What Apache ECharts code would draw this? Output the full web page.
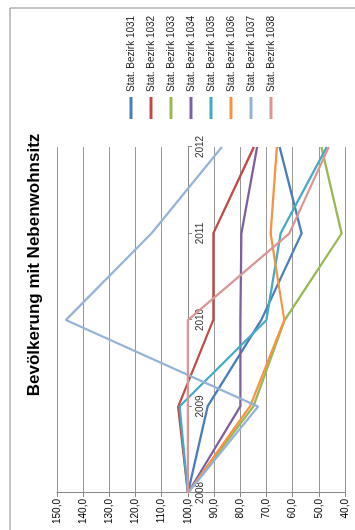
<!DOCTYPE html>
<html>
<head>
<meta charset="utf-8">
<script src="https://cdn.jsdelivr.net/npm/echarts@6/dist/echarts.min.js"></script>
<style>
html,body{margin:0;padding:0;background:#fff;overflow:hidden;}
#wrap{position:absolute;left:0;top:0;width:355px;height:530px;overflow:hidden;}
#chart{position:absolute;left:0;top:0;width:530px;height:355px;transform-origin:0 0;transform:translateY(530px) rotate(-90deg);}
</style>
</head>
<body>
<div id="wrap"><div id="chart"></div></div>
<script>
const titleText = 'Bevölkerung mit Nebenwohnsitz';
const years = ['2008', '2009', '2010', '2011', '2012'];
const seriesNames = ['Stat. Bezirk 1031','Stat. Bezirk 1032','Stat. Bezirk 1033','Stat. Bezirk 1034','Stat. Bezirk 1035','Stat. Bezirk 1036','Stat. Bezirk 1037','Stat. Bezirk 1038'];
const bezirk1031 = [100, 92.5, 72.0, 56.6, 65.0];
const bezirk1032 = [100, 103.7, 90.3, 90.3, 74.8];
const bezirk1033 = [100, 75.0, 63.0, 41.3, 49.0];
const bezirk1034 = [100, 80.0, 80.0, 79.6, 73.6];
const bezirk1035 = [100, 103.2, 70.0, 64.6, 47.0];
const bezirk1036 = [100, 76.3, 63.2, 68.4, 66.0];
const bezirk1037 = [100, 73.2, 146.6, 114.0, 87.0];
const bezirk1038 = [100, 100, 100, 61.3, 46.2];
const valueTicks = { min: 40, max: 150, step: 10 };
const colors = ['#4A7EBB','#BE4B48','#98B954','#7D60A0','#46AAC5','#F69240','#95B3D7','#D99694'];

const allData = [bezirk1031,bezirk1032,bezirk1033,bezirk1034,bezirk1035,bezirk1036,bezirk1037,bezirk1038];
const font = '"Liberation Sans", Arial, sans-serif';

const chart = echarts.init(document.getElementById('chart'));
chart.setOption({
  animation: false,
  backgroundColor: '#fff',
  color: colors,
  textStyle: { fontFamily: font },
  title: {
    text: titleText,
    left: 'center',
    top: 21,
    textStyle: { fontFamily: font, fontSize: 17, fontWeight: 'bold', color: '#000' }
  },
  legend: {
    orient: 'vertical',
    left: 406,
    top: 120,
    icon: 'rect',
    itemWidth: 22,
    itemHeight: 3,
    itemGap: 8,
    data: seriesNames,
    textStyle: { fontFamily: font, fontSize: 10, lineHeight: 12, color: '#222' }
  },
  grid: { left: 37, right: 147, top: 57, bottom: 10, containLabel: false },
  xAxis: {
    type: 'category',
    data: years,
    boundaryGap: false,
    position: 'bottom',
    offset: -157,
    axisLine: { show: true, lineStyle: { color: '#888', width: 1 } },
    axisTick: { show: true, length: 4, lineStyle: { color: '#888' } },
    axisLabel: { fontFamily: font, fontSize: 10, color: '#333', margin: 7 },
    splitLine: { show: false }
  },
  yAxis: {
    type: 'value',
    min: valueTicks.min,
    max: valueTicks.max,
    interval: valueTicks.step,
    axisLine: { show: true, lineStyle: { color: '#888', width: 1 } },
    axisTick: { show: true, length: 4, lineStyle: { color: '#888' } },
    axisLabel: {
      fontFamily: font, fontSize: 10, color: '#000', margin: 6,
      formatter: v => v.toFixed(1).replace('.', ',')
    },
    splitLine: { show: true, lineStyle: { color: '#999', width: 1 } }
  },
  series: seriesNames.map((n, i) => ({
    name: n,
    type: 'line',
    data: allData[i],
    symbol: 'none',
    lineStyle: { width: 2.25, color: colors[i] },
    itemStyle: { color: colors[i] }
  })),
  graphic: [{
    type: 'rect',
    shape: { x: -20, y: 10, width: 542, height: 400 },
    style: { fill: 'none', stroke: '#888', lineWidth: 1 },
    silent: true,
    z: -1
  }]
});
</script>
</body>
</html>
